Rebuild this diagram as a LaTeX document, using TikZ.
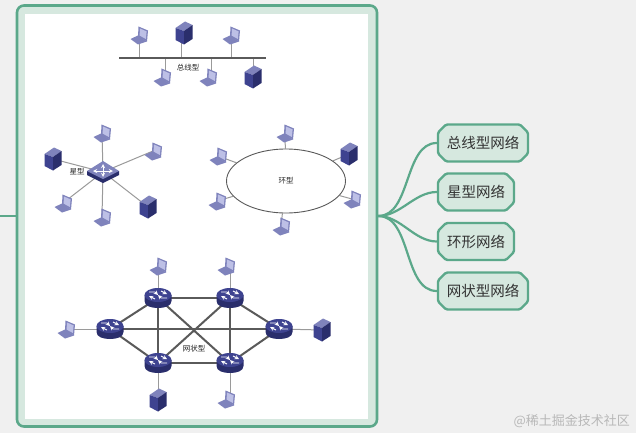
\documentclass[tikz,border=0pt]{standalone}
\usepackage{fontspec}
\setmainfont{Noto Sans CJK SC}
\usepackage{xcolor}
\usetikzlibrary{shapes.geometric,shapes.misc}

\definecolor{pagegray}{HTML}{F0F0F0}
\definecolor{framegreen}{HTML}{5BA88A}
\definecolor{palegreen}{HTML}{D6E8DF}
\definecolor{iconblue}{HTML}{3E4390}
\definecolor{iconlight}{HTML}{7F83BC}
\definecolor{iconpale}{HTML}{BDC0E6}
\definecolor{icondark}{HTML}{2A2E6C}
\definecolor{wirelight}{HTML}{9A9A9A}
\definecolor{wiredark}{HTML}{5A5A5A}

\pgfdeclarelayer{panellayer}
\pgfdeclarelayer{wirelayer}
\pgfsetlayers{panellayer,wirelayer,main}

\tikzset{
  laptopbox/.style={inner sep=0pt, minimum width=19pt, minimum height=20pt, path picture={
      \begin{scope}[shift={(path picture bounding box.center)}]
      \fill[iconlight] (-0.5,-8.5) -- (9,-4.5) -- (8,6.5) -- (-1,1.5) -- cycle;
      \fill[iconpale] (1,-6.5) -- (7.6,-3.6) -- (6.9,4) -- (0.6,0.6) -- cycle;
      \fill[iconlight] (-8.5,4) -- (-1,0.5) -- (8,6.5) -- (-1,9.5) -- cycle;
      \end{scope}
  }},
  serverbox/.style={inner sep=0pt, minimum width=18pt, minimum height=24pt, path picture={
      \begin{scope}[shift={(path picture bounding box.center)}]
      \fill[iconlight] (-8.5,-5) -- (1,-11.5) -- (8.5,-8) -- (0,-2) -- cycle;
      \fill[iconblue] (-8.5,-5) -- (0,-2) -- (0,11.5) -- (-8.5,7) -- cycle;
      \fill[icondark] (0,-2) -- (8.5,-8) -- (8.5,6) -- (0,11.5) -- cycle;
      \end{scope}
  }},
  switchbox/.style={inner sep=0pt, minimum width=33pt, minimum height=23pt, path picture={
      \begin{scope}[shift={(path picture bounding box.center)}]
      \fill[icondark] (-16,-1) -- (-16,3) -- (0,11) -- (16,3) -- (16,-1) -- cycle;
      \fill[iconlight] (-16,-1) -- (0,-11) -- (16,-1) -- (0,7) -- cycle;
      \draw[white, line width=0.9pt, <->, >=stealth] (-10,-1) -- (10,-1);
      \draw[white, line width=0.9pt, <->, >=stealth] (0,-8) -- (0,5);
      \end{scope}
  }},
  routerbox/.style={inner sep=0pt, minimum width=28pt, minimum height=21pt, path picture={
      \begin{scope}[shift={(path picture bounding box.center)}]
      \fill[icondark] (-13.5,-3) -- (-13.5,3) .. controls (-13.5,8) and (-7,10) .. (0,10) .. controls (7,10) and (13.5,8) .. (13.5,3) -- (13.5,-3) -- cycle;
      \fill[iconblue] (0,-3) ellipse[x radius=13.5, y radius=7];
      \draw[white, line width=0.9pt, ->, >=stealth] (-9,-6) -- (-3,-6) -- (0,-3);
      \draw[white, line width=0.9pt, ->, >=stealth] (9,0) -- (3,0) -- (0,-3);
      \draw[white, line width=0.9pt, ->, >=stealth] (3,-7) -- (9,-4);
      \draw[white, line width=0.9pt, ->, >=stealth] (-3,1) -- (-9,-2);
      \end{scope}
  }},
  lightwire/.style={draw=wirelight, line width=1pt},
  heavywire/.style={draw=wiredark, line width=2pt},
  typelabel/.style={font=\fontsize{7.5}{8}\selectfont, text=black!85, inner sep=0pt},
  sidebox/.style={chamfered rectangle, chamfered rectangle xsep=4pt, chamfered rectangle ysep=4pt, rounded corners=1.5pt, draw=framegreen, fill=palegreen, line width=2.4pt, line join=round, minimum height=37pt, inner sep=0pt, font=\fontsize{14.5}{16}\selectfont, text=black!80},
  branch/.style={draw=framegreen, line width=2.2pt, out=0, in=180, looseness=0.9}
}

\begin{document}
\begin{tikzpicture}[x=1pt, y=-1pt]
      \useasboundingbox (0,0) rectangle (636,433);

      % Panel
      \begin{pgfonlayer}{panellayer}
      \fill[pagegray] (0,0) rectangle (636,433);
      \draw[framegreen, line width=2pt] (0,216) -- (17,216);
      \node[draw=framegreen, fill=palegreen, line width=2.6pt, rounded corners=7pt, inner sep=0pt, minimum width=360pt, minimum height=421pt] (panel) at (197,216) {};
      \node[fill=white, inner sep=0pt, minimum width=343pt, minimum height=405pt] (sheet) at (196.5,216.5) {};
      \end{pgfonlayer}

      % Bus
      \node[fill=wiredark, inner sep=0pt, minimum width=147pt, minimum height=2.6pt] (bus) at (192.5,58) {};
      \node[laptopbox] (busa) at (139,35) {};
      \node[serverbox] (busb) at (184,33) {};
      \node[laptopbox] (busc) at (231,35) {};
      \node[laptopbox] (busd) at (162,77) {};
      \node[laptopbox] (buse) at (208,77) {};
      \node[serverbox] (busf) at (253,77) {};
      \node[typelabel] (buslabel) at (188,68) {总线型};
      \begin{pgfonlayer}{wirelayer}
      \draw[lightwire] (busa.center) -- (busa.center |- bus.center);
      \draw[lightwire] ([xshift=-3pt]busb.center) -- ([xshift=-3pt]busb.center |- bus.center);
      \draw[lightwire] (busc.center) -- (busc.center |- bus.center);
      \draw[lightwire] ([xshift=3pt]busd.center) -- ([xshift=3pt]busd.center |- bus.center);
      \draw[lightwire] ([xshift=3pt]buse.center) -- ([xshift=3pt]buse.center |- bus.center);
      \draw[lightwire] (busf.center) -- (busf.center |- bus.center);
      \end{pgfonlayer}

      % Star
      \node[switchbox] (hub) at (103,172) {};
      \node[laptopbox] (stara) at (102,133) {};
      \node[laptopbox] (starb) at (153,151) {};
      \node[serverbox] (starc) at (53,159) {};
      \node[laptopbox] (stard) at (63,203) {};
      \node[laptopbox] (stare) at (102,217) {};
      \node[serverbox] (starf) at (148,207) {};
      \node[typelabel] (starlabel) at (77,172) {星型};
      \begin{pgfonlayer}{wirelayer}
      \foreach \leaf in {stara,starb,starc,stard,stare,starf}
        \draw[lightwire] (hub.center) -- (\leaf.center);
      \end{pgfonlayer}

      % Ring
      \node[ellipse, draw=wiredark, line width=0.9pt, fill=white, minimum width=119pt, minimum height=64pt, inner sep=0pt] (ring) at (286,181) {};
      \node[typelabel] (ringlabel) at (286,181) {环型};
      \node[laptopbox] (ringa) at (285,133) {};
      \node[serverbox] (ringb) at (349,154) {};
      \node[laptopbox] (ringc) at (352,199) {};
      \node[laptopbox] (ringd) at (281,226) {};
      \node[laptopbox] (ringe) at (217,201) {};
      \node[laptopbox] (ringf) at (218,156) {};
      \begin{pgfonlayer}{wirelayer}
      \foreach \leaf in {ringa,ringb,ringc,ringd,ringe,ringf}
        \draw[lightwire] (ring) -- (\leaf.center);
      \end{pgfonlayer}

      % Mesh
      \node[routerbox] (meshtl) at (158,298) {};
      \node[routerbox] (meshtr) at (230,298) {};
      \node[routerbox] (meshl) at (110,329) {};
      \node[routerbox] (meshr) at (279,329) {};
      \node[routerbox] (meshbl) at (158,363) {};
      \node[routerbox] (meshbr) at (230,363) {};
      \node[typelabel] (meshlabel) at (194,349) {网状型};
      \node[laptopbox] (mesha) at (158,266) {};
      \node[laptopbox] (meshb) at (226,266) {};
      \node[laptopbox] (meshc) at (66,329) {};
      \node[serverbox] (meshd) at (322,330) {};
      \node[serverbox] (meshe) at (158,400) {};
      \node[laptopbox] (meshf) at (226,399) {};
      \begin{pgfonlayer}{wirelayer}
      \foreach \from/\to in {meshtl/meshtr,meshbl/meshbr,meshl/meshtl,meshl/meshbl,meshr/meshtr,meshr/meshbr,meshtl/meshbl,meshtr/meshbr,meshl/meshr,meshtl/meshbr,meshtr/meshbl}
        \draw[heavywire] (\from.center) -- (\to.center);
      \draw[lightwire] (mesha.center) -- (meshtl.center);
      \draw[lightwire] ([xshift=4pt]meshb.center) -- (meshtr.center);
      \draw[lightwire] (meshc.center) -- (meshl.center);
      \draw[lightwire] (meshd.center) -- (meshr.center);
      \draw[lightwire] (meshe.center) -- (meshbl.center);
      \draw[lightwire] ([xshift=4pt]meshf.center) -- (meshbr.center);
      \end{pgfonlayer}

      % Side list
      \node[sidebox, minimum width=90pt] (listbus) at (483,143) {总线型网络};
      \node[sidebox, minimum width=76pt] (liststar) at (476,192) {星型网络};
      \node[sidebox, minimum width=76pt] (listring) at (476,241.5) {环形网络};
      \node[sidebox, minimum width=90pt] (listmesh) at (483,291) {网状型网络};
      \coordinate (root) at (panel.east);
      \foreach \item in {listbus,liststar,listring,listmesh}
        \draw[branch] (root) to (\item.west);

      \node[font=\fontsize{13}{14}\selectfont, text=black!28, anchor=east, inner sep=0pt] (mark) at (630,421) {@稀土掘金技术社区};
    \end{tikzpicture}
\end{document}
